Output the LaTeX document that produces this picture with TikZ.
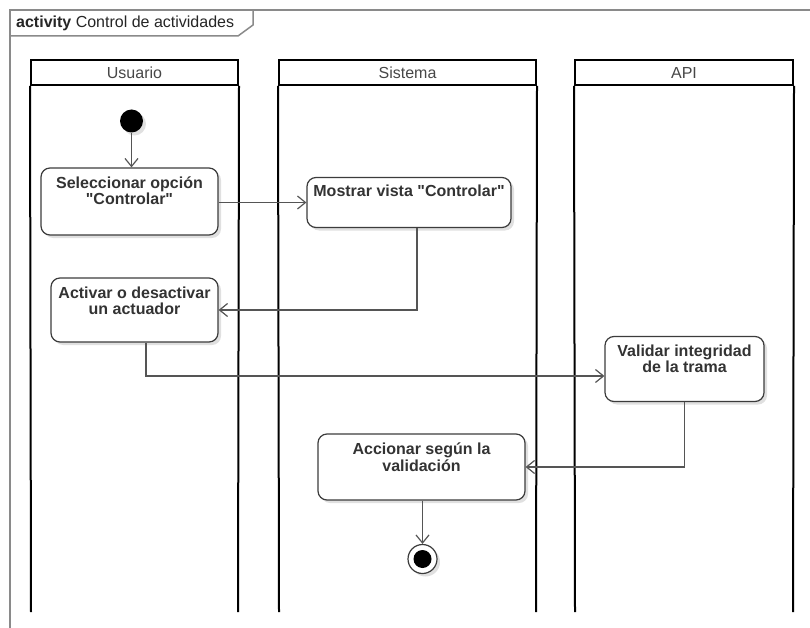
\documentclass[tikz,border=0pt]{standalone}
\usepackage{fontspec}
\setmainfont{Liberation Sans}[Ligatures=TeXOff]
\usetikzlibrary{arrows.meta,shadows,calc}
\definecolor{boxline}{HTML}{3C3C3C}
\definecolor{connc}{HTML}{555555}
\definecolor{txt}{HTML}{333333}
\definecolor{framec}{HTML}{8A8A8A}
\newcommand{\dfont}{\fontsize{16}{16}\selectfont}
\begin{document}
\begin{tikzpicture}[x=1pt,y=-1pt,
  shade/.style={drop shadow={shadow xshift=3pt,shadow yshift=-3pt,opacity=0.12,fill=black}},
  actbox/.style={draw=boxline,line width=1.2pt,rounded corners=9pt,fill=white,inner sep=0pt,shade},
  boxtext/.style={anchor=base,inner sep=0pt,font=\dfont\bfseries,text=txt},
  conn/.style={draw=connc,line width=1.2pt,-{Straight Barb[length=8pt,width=13pt]}},
  lanehead/.style={draw=black,line width=2pt,inner sep=0pt,font=\dfont,text=txt!90},
  laneline/.style={draw=black,line width=2pt},
  framel/.style={draw=framec,line width=1.5pt}]
\useasboundingbox (0,0) rectangle (810,628);
\fill[white] (0,0) rectangle (810,628);
% frame
\draw[framel] (10,628) -- (10,10) -- (810,10);
\draw[framel] (10,36) -- (238,36) -- (253,25) -- (253,10);
\node[anchor=base west,inner sep=0pt,font=\dfont,text=black!85] (title) at (16,28) {\textbf{activity} Control de actividades};
% lanes
\node[lanehead,minimum width=207,minimum height=25] (usu) at (134.5,72.5) {Usuario};
\node[lanehead,minimum width=257,minimum height=25] (sis) at (407.5,72.5) {Sistema};
\node[lanehead,minimum width=218,minimum height=25] (api) at (684,72.5) {API};
\coordinate (usuL) at (31,612); \coordinate (usuR) at (238,612);
\coordinate (sisL) at (279,612); \coordinate (sisR) at (536,612);
\coordinate (apiL) at (575,612); \coordinate (apiR) at (793,612);
\draw[laneline] (usu.south west) -- (usuL);
\draw[laneline] (usu.south east) -- (usuR);
\draw[laneline] (sis.south west) -- (sisL);
\draw[laneline] (sis.south east) -- (sisR);
\draw[laneline] (api.south west) -- (apiL);
\draw[laneline] (api.south east) -- (apiR);
% nodes
\node[circle,fill=black,minimum size=23,inner sep=0pt,shade] (init) at (131.5,121) {};
\node[actbox,minimum width=177,minimum height=67] (sel) at (129.5,201.5) {};
\node[boxtext] (selt) at ($(sel.north)+(0,21)$) {\begin{tabular}[t]{@{}c@{}}Seleccionar opción\\"Controlar"\end{tabular}};
\node[actbox,minimum width=204,minimum height=50] (mos) at (409,202.5) {};
\node[boxtext] (most) at ($(mos.north)+(0,20)$) {Mostrar vista "Controlar"};
\node[actbox,minimum width=167,minimum height=64] (act) at (134.5,310) {};
\node[boxtext] (actt) at ($(act.north)+(0,21)$) {\begin{tabular}[t]{@{}c@{}}Activar o desactivar\\un actuador\end{tabular}};
\node[actbox,minimum width=159,minimum height=65] (val) at (684.5,369) {};
\node[boxtext] (valt) at ($(val.north)+(0,20.5)$) {\begin{tabular}[t]{@{}c@{}}Validar integridad\\de la trama\end{tabular}};
\node[actbox,minimum width=207,minimum height=66] (acc) at (421.5,467) {};
\node[boxtext] (acct) at ($(acc.north)+(0,21.5)$) {\begin{tabular}[t]{@{}c@{}}Accionar según la\\validación\end{tabular}};
\node[circle,draw=boxline,line width=1.2pt,fill=white,minimum size=29,inner sep=0pt,shade] (fin) at (422.5,559) {};
\node[circle,fill=black,minimum size=18,inner sep=0pt] (fini) at (fin) {};
% connectors
\draw[conn] (init) -- (init |- sel.north);
\draw[conn] (sel.east |- mos.west) -- (mos.west);
\draw[conn] ([xshift=8pt]mos.south) |- (act.east);
\draw[conn] ([xshift=11.5pt]act.south) |- ([yshift=-7pt]val.west);
\draw[conn] (val.south) |- (acc.east);
\draw[conn] (acc.south -| fin) -- (fin.north);
\end{tikzpicture}
\end{document}
